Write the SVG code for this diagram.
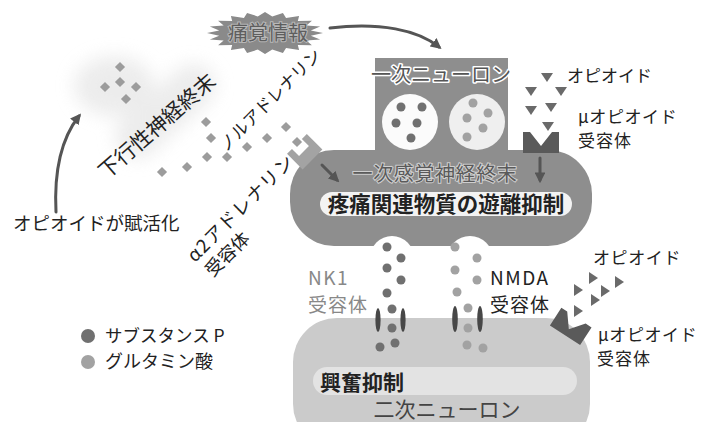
<svg xmlns="http://www.w3.org/2000/svg" width="711" height="422" viewBox="0 0 711 422">
  <style>
    text { font-family: 'Noto Sans CJK JP', 'Noto Sans', sans-serif; fill: #222; }
    .lbl { font-size: 17px; }
    .halo { paint-order: stroke; stroke: #fff; stroke-width: 3px; stroke-linejoin: round; }
    .conn { fill: none; stroke: #555; stroke-width: 3; stroke-linecap: round; }
    .ne { fill: #9c9c9c; }
    .op { fill: #6a6a6a; }
    .sp { fill: #707070; }
    .glu { fill: #a2a2a2; }
    .chan { fill: #474747; }
    .rec { fill: #5a5a5a; }
  </style>
  <defs>
    <marker id="ah" viewBox="0 0 10 10" refX="7" refY="5" markerWidth="3.6" markerHeight="3.6" orient="auto">
      <path d="M0,0 L10,5 L0,10 Z" fill="#555"/>
    </marker>
    <rect id="dia" x="-3.6" y="-3.6" width="7.2" height="7.2" transform="rotate(45)"/>
    <path id="triD" d="M-6,-4 L6,-4 L0,5 Z"/>
    <path id="triR" d="M-4,-6 L5,0 L-4,6 Z"/>
    <path id="mu" d="M-18,-10 L-11,-10 L0,4 L11,-10 L18,-10 L18,11 L-18,11 Z"/>
    <filter id="soft" x="-30%" y="-30%" width="160%" height="160%">
      <feGaussianBlur stdDeviation="9"/>
    </filter>
  </defs>

  <rect width="711" height="422" fill="#fff"/>

  <!-- descending nerve terminal (soft haze) -->
  <g id="descending-terminal">
    <g filter="url(#soft)" fill="#e6e6e6" opacity="0.75">
      <ellipse cx="114" cy="86" rx="40" ry="30"/>
      <rect x="110" y="95" width="120" height="44" rx="22" transform="rotate(-42 160 120)"/>
    </g>
    <g class="ne">
      <use href="#dia" x="120" y="67"/>
      <use href="#dia" x="120" y="82"/>
      <use href="#dia" x="105" y="87"/>
      <use href="#dia" x="136" y="87"/>
      <use href="#dia" x="126" y="99"/>
    </g>
    <text font-size="21" text-anchor="middle" dominant-baseline="central" transform="translate(156,125) rotate(-41)">下行性神経終末</text>
  </g>

  <!-- released noradrenaline -->
  <g id="noradrenaline" class="ne">
    <use href="#dia" x="206" y="122"/>
    <use href="#dia" x="211" y="138"/>
    <use href="#dia" x="247" y="147"/>
    <use href="#dia" x="267" y="138"/>
    <use href="#dia" x="286" y="127"/>
    <use href="#dia" x="297" y="142"/>
    <use href="#dia" x="227" y="157"/>
    <use href="#dia" x="207" y="157"/>
    <use href="#dia" x="187" y="167"/>
    <use href="#dia" x="162" y="172"/>
  </g>
  <text id="label-noradrenaline" font-size="17" text-anchor="middle" dominant-baseline="central" transform="translate(269,99) rotate(-45)">ノルアドレナリン</text>

  <!-- pain signal burst -->
  <g id="pain-signal">
    <polygon fill="#8a8a8a" transform="translate(265,33) scale(58,21)" points="1,0 .79,.125 .951,.309 .713,.363 .809,.588 .566,.566 .588,.809 .363,.713 .309,.951 .125,.79 0,1 -.125,.79 -.309,.951 -.363,.713 -.588,.809 -.566,.566 -.809,.588 -.713,.363 -.951,.309 -.79,.125 -1,0 -.79,-.125 -.951,-.309 -.713,-.363 -.809,-.588 -.566,-.566 -.588,-.809 -.363,-.713 -.309,-.951 -.125,-.79 0,-1 .125,-.79 .309,-.951 .363,-.713 .588,-.809 .566,-.566 .809,-.588 .713,-.363 .951,-.309 .79,-.125"/>
    <text x="268" y="40" font-size="20" text-anchor="middle" style="fill:#5e5e5e; paint-order:stroke; stroke:#b8b8b8; stroke-width:2px">痛覚情報</text>
  </g>

  <!-- primary neuron: cell body box and sensory terminal -->
  <g id="primary-neuron">
    <rect x="375" y="58" width="133" height="110" fill="#8e8e8e"/>
    <rect x="290" y="150" width="302" height="96" rx="44" fill="#8e8e8e"/>
    <text class="halo" x="441" y="82" font-size="20" text-anchor="middle" style="fill:#555">一次ニューロン</text>
    <circle cx="410" cy="122" r="28" fill="#fbfbfb"/>
    <circle cx="477" cy="122" r="28" fill="#efefef"/>
    <g class="sp">
      <circle cx="401" cy="107" r="4.5"/>
      <circle cx="422" cy="107" r="4.5"/>
      <circle cx="396" cy="123" r="4.5"/>
      <circle cx="417" cy="123" r="4.5"/>
      <circle cx="411" cy="138" r="4.5"/>
    </g>
    <g class="glu">
      <circle cx="473" cy="103" r="4.5"/>
      <circle cx="488" cy="113" r="4.5"/>
      <circle cx="467" cy="118" r="4.5"/>
      <circle cx="483" cy="128" r="4.5"/>
      <circle cx="467" cy="137" r="4.5"/>
    </g>
    <text x="435" y="181" font-size="20" letter-spacing="0.6" text-anchor="middle" style="fill:#5a5a5a; paint-order:stroke; stroke:#cfcfcf; stroke-width:2px">一次感覚神経終末</text>
    <rect x="320" y="192" width="252" height="24" rx="12" fill="#f3f3f3"/>
    <text x="446" y="212" font-size="21.5" font-weight="bold" text-anchor="middle">疼痛関連物質の遊離抑制</text>
  </g>

  <!-- synaptic cleft -->
  <g id="synaptic-cleft" fill="#fff">
    <rect x="370" y="236" width="44" height="100" rx="22"/>
    <rect x="447" y="236" width="46" height="100" rx="23"/>
  </g>

  <!-- secondary neuron -->
  <g id="secondary-neuron">
    <rect x="293" y="318" width="297" height="130" rx="44" fill="#cbcbcb"/>
    <rect x="313" y="367" width="264" height="28" rx="14" fill="#e3e3e3"/>
    <text x="320" y="390" font-size="21" font-weight="bold">興奮抑制</text>
    <text x="447" y="417" font-size="21" text-anchor="middle" style="fill:#444">二次ニューロン</text>
  </g>

  <!-- NK1 receptor with substance P -->
  <g id="nk1-receptor">
    <ellipse class="chan" cx="378" cy="320" rx="2.6" ry="12"/>
    <ellipse class="chan" cx="403" cy="320" rx="2.6" ry="12"/>
    <g class="sp">
      <circle cx="387" cy="247" r="4.5"/>
      <circle cx="401" cy="258" r="4.5"/>
      <circle cx="387" cy="268" r="4.5"/>
      <circle cx="401" cy="280" r="4.5"/>
      <circle cx="387" cy="293" r="4.5"/>
      <circle cx="392" cy="309" r="4.5"/>
      <circle cx="392" cy="328" r="4.5"/>
      <circle cx="380" cy="347" r="4.5"/>
      <circle cx="395" cy="343" r="4.5"/>
    </g>
    <text x="308" y="285" font-size="19" letter-spacing="1.5" style="fill:#888">NK1</text>
    <text x="308" y="312" font-size="19" letter-spacing="1" style="fill:#888">受容体</text>
  </g>

  <!-- NMDA receptor with glutamate -->
  <g id="nmda-receptor">
    <ellipse class="chan" cx="455" cy="319" rx="2.8" ry="13"/>
    <ellipse class="chan" cx="480" cy="319" rx="2.8" ry="13"/>
    <g class="glu">
      <circle cx="455" cy="247" r="4.5"/>
      <circle cx="477" cy="258" r="4.5"/>
      <circle cx="455" cy="270" r="4.5"/>
      <circle cx="477" cy="280" r="4.5"/>
      <circle cx="457" cy="292" r="4.5"/>
      <circle cx="468" cy="308" r="4.5"/>
      <circle cx="468" cy="328" r="4.5"/>
      <circle cx="467" cy="345" r="4.5"/>
      <circle cx="483" cy="348" r="4.5"/>
    </g>
    <text x="490" y="285" font-size="19" letter-spacing="1.5">NMDA</text>
    <text x="490" y="312" font-size="19" letter-spacing="1">受容体</text>
  </g>

  <!-- alpha2 adrenergic receptor -->
  <g id="alpha2-receptor">
    <path fill="#a3a3a3" transform="translate(304,151) rotate(-45)" d="M-14,-10 L-7,-10 L-7,0 L7,0 L7,-10 L14,-10 L14,12 L-14,12 Z"/>
    <g transform="translate(195,263) rotate(-45)">
      <text x="0" y="0" font-size="18.5" letter-spacing="1.2">α2アドレナリン</text>
      <text x="2" y="23" font-size="18">受容体</text>
    </g>
  </g>

  <!-- presynaptic mu opioid receptor -->
  <g id="mu-receptor-pre">
    <use href="#mu" class="rec" x="541" y="142"/>
    <g class="op">
      <use href="#triD" x="547" y="77"/>
      <use href="#triD" x="531" y="91"/>
      <use href="#triD" x="561" y="91"/>
      <use href="#triD" x="531" y="110"/>
      <use href="#triD" x="551" y="107"/>
      <use href="#triD" x="548" y="126"/>
    </g>
    <text class="lbl" x="567" y="82">オピオイド</text>
    <text class="lbl" x="578" y="123" letter-spacing="0.6">μオピオイド</text>
    <text class="lbl" x="578" y="147" letter-spacing="1">受容体</text>
  </g>

  <!-- postsynaptic mu opioid receptor -->
  <g id="mu-receptor-post">
    <use href="#mu" class="rec" transform="translate(571,326) rotate(33)"/>
    <g class="op">
      <use href="#triR" x="593" y="278"/>
      <use href="#triR" x="619" y="282"/>
      <use href="#triR" x="578" y="290"/>
      <use href="#triR" x="605" y="291"/>
      <use href="#triR" x="595" y="300"/>
      <use href="#triR" x="578" y="311"/>
    </g>
    <text class="lbl" x="593" y="264" letter-spacing="0.6">オピオイド</text>
    <text class="lbl" x="598" y="341" letter-spacing="0.6">μオピオイド</text>
    <text class="lbl" x="597" y="365" letter-spacing="1">受容体</text>
  </g>

  <!-- activation note -->
  <text id="label-activation" x="13" y="230" font-size="18.5">オピオイドが賦活化</text>

  <!-- legend -->
  <g id="legend">
    <circle class="sp" cx="88" cy="336" r="7"/>
    <circle class="glu" cx="88" cy="362" r="7"/>
    <text x="105" y="342" font-size="17.5">サブスタンス P</text>
    <text x="105" y="368" font-size="18">グルタミン酸</text>
  </g>

  <!-- connectors -->
  <g id="connectors">
    <path class="conn" d="M56,212 C54,172 60,140 79,116" marker-end="url(#ah)"/>
    <path class="conn" d="M330,28 C380,22 418,30 439,47" marker-end="url(#ah)"/>
    <path class="conn" stroke-width="4" d="M322,165 L337,180" marker-end="url(#ah)"/>
    <path class="conn" stroke-width="4" d="M540,158 L540,180" marker-end="url(#ah)"/>
  </g>
</svg>
